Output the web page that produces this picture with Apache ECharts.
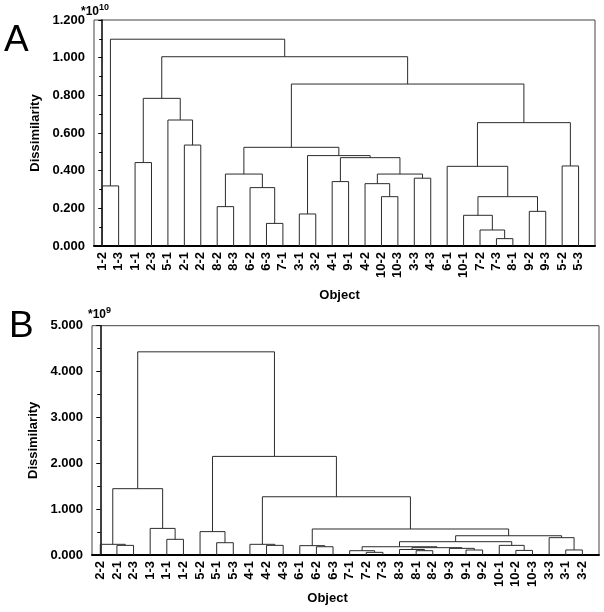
<!DOCTYPE html>
<html><head><meta charset="utf-8">
<script src="https://cdn.jsdelivr.net/npm/echarts@6/dist/echarts.min.js"></script>
<style>html,body{margin:0;padding:0;background:#fff}#c{width:604px;height:612px}</style>
</head><body><div id="c"></div>
<script>
// Panel A leaf order (left to right)
const leavesA = ['1-2','1-3','1-1','2-3','5-1','2-1','2-2','8-2','8-3','6-2','6-3','7-1','3-1','3-2','4-1','9-1','4-2','10-2','10-3','3-3','4-3','6-1','10-1','7-2','7-3','8-1','9-2','9-3','5-2','5-3'];
// Panel A merges: [child1, child2, dissimilarity (x1e10)]; a number refers to an earlier merge
const mergesA = [
  ['7-3','8-1',0.039],   // 0
  ['7-2',0,0.085],       // 1
  ['3-1','3-2',0.17],    // 2
  ['6-3','7-1',0.12],    // 3
  ['10-1',1,0.163],      // 4
  ['9-2','9-3',0.184],   // 5
  ['8-2','8-3',0.209],   // 6
  ['10-2','10-3',0.262], // 7
  [4,5,0.262],           // 8
  ['6-2',3,0.31],        // 9
  ['1-2','1-3',0.319],   // 10
  ['4-2',7,0.331],       // 11
  ['4-1','9-1',0.342],   // 12
  ['3-3','4-3',0.36],    // 13
  [11,13,0.382],         // 14
  [6,9,0.382],           // 15
  ['6-1',8,0.423],       // 16
  ['5-2','5-3',0.425],   // 17
  ['1-1','2-3',0.443],   // 18
  [12,14,0.469],         // 19
  [2,19,0.48],           // 20
  [15,20,0.524],         // 21
  ['2-1','2-2',0.536],   // 22
  [16,17,0.655],         // 23
  ['5-1',22,0.669],      // 24
  [18,24,0.784],         // 25
  [21,23,0.86],          // 26
  [25,26,1.005],         // 27
  [10,27,1.098]          // 28
];
// Panel B leaf order
const leavesB = ['2-2','2-1','2-3','1-3','1-1','1-2','5-2','5-1','5-3','4-1','4-2','4-3','6-1','6-2','6-3','7-1','7-2','7-3','8-3','8-1','8-2','9-3','9-1','9-2','10-1','10-2','10-3','3-3','3-1','3-2'];
// Panel B merges (x1e9)
const mergesB = [
  ['7-2','7-3',0.058],   // 0
  ['7-1',0,0.094],       // 1
  ['8-1','8-2',0.094],   // 2
  ['8-3',2,0.12],        // 3
  ['9-1','9-2',0.109],   // 4
  ['9-3',4,0.145],       // 5
  [3,5,0.16],            // 6
  [1,6,0.18],            // 7
  ['10-2','10-3',0.1],   // 8
  ['10-1',8,0.21],       // 9
  [7,9,0.29],            // 10
  ['3-1','3-2',0.11],    // 11
  ['3-3',11,0.378],      // 12
  [10,12,0.42],          // 13
  ['6-2','6-3',0.18],    // 14
  ['6-1',14,0.204],      // 15
  [15,13,0.567],         // 16
  ['4-2','4-3',0.21],    // 17
  ['4-1',17,0.233],      // 18
  [18,16,1.27],          // 19
  ['5-1','5-3',0.268],   // 20
  ['5-2',20,0.51],       // 21
  [21,19,2.15],          // 22
  ['2-1','2-3',0.21],    // 23
  ['2-2',23,0.233],      // 24
  ['1-1','1-2',0.342],   // 25
  ['1-3',25,0.58],       // 26
  [24,26,1.446],         // 27
  [27,22,4.43]           // 28
];
const yMaxA = 1.2, yStepA = 0.2;
const yMaxB = 5, yStepB = 1;

function buildSegments(leaves, merges) {
  const pos = {};
  leaves.forEach((l, i) => pos[l] = i);
  const nodes = [];
  const get = c => typeof c === 'string' ? {x: pos[c], h: 0} : nodes[c];
  return merges.map(([a, b, h]) => {
    const A = get(a), B = get(b);
    nodes.push({x: (A.x + B.x) / 2, h: h});
    return [A.x, A.h, B.x, B.h, h];
  });
}

const FONT = 'Liberation Sans, Arial, sans-serif';
const lineColor = '#2b2b2b';

function renderItem(params, api) {
  const p1 = api.coord([api.value(0), api.value(1)]);
  const p2 = api.coord([api.value(0), api.value(4)]);
  const p3 = api.coord([api.value(2), api.value(4)]);
  const p4 = api.coord([api.value(2), api.value(3)]);
  return {type: 'polyline', shape: {points: [p1, p2, p3, p4]},
    style: {stroke: lineColor, lineWidth: 1, fill: null}};
}

function xAxisFor(gi, leaves, nameGap, shift) {
  return {
    gridIndex: gi, type: 'value', min: -0.5, max: 30,
    axisLine: {show: true, onZero: false, lineStyle: {color: '#000', width: 2}},
    axisTick: {show: false}, splitLine: {show: false},
    axisLabel: {customValues: leaves.map((_, i) => i), formatter: v => leaves[Math.round(v)],
      rotate: 90, fontSize: 13, fontWeight: 'bold', color: '#000', margin: 6, fontFamily: FONT},
    name: 'Object', nameLocation: 'middle', nameGap: nameGap,
    nameTextStyle: {fontSize: 13, fontWeight: 'bold', color: '#000', fontFamily: FONT, padding: [0, 0, 0, shift]}
  };
}
function yAxisFor(gi, max, step, nameGap) {
  return {
    gridIndex: gi, type: 'value', min: 0, max: max, interval: step,
    axisLine: {show: true, lineStyle: {color: '#000', width: 1.5}},
    axisTick: {show: true, length: 4, lineStyle: {color: '#000'}},
    minorTick: {show: true, splitNumber: 2, length: 3, lineStyle: {color: '#000'}},
    splitLine: {show: false},
    axisLabel: {formatter: v => v.toFixed(3), fontSize: 13, fontWeight: 'bold', color: '#000', margin: 9, fontFamily: FONT},
    name: 'Dissimilarity', nameLocation: 'middle', nameGap: nameGap, nameRotate: 90,
    nameTextStyle: {fontSize: 13, fontWeight: 'bold', color: '#000', fontFamily: FONT}
  };
}

const chart = echarts.init(document.getElementById('c'), null, {renderer: 'canvas'});
chart.setOption({
  animation: false,
  backgroundColor: '#fff',
  title: [
    {text: 'A', left: 4, top: 22, padding: 0, textStyle: {fontSize: 37, fontWeight: 'normal', color: '#000', fontFamily: FONT}},
    {text: 'B', left: 9, top: 308, padding: 0, textStyle: {fontSize: 37, fontWeight: 'normal', color: '#000', fontFamily: FONT}},
    {text: '{a|*10}{b|10}', left: 81, top: 3, padding: 0,
      textStyle: {rich: {a: {fontSize: 12, fontWeight: 'bold', color: '#000', fontFamily: FONT, verticalAlign: 'bottom', lineHeight: 15},
                          b: {fontSize: 9, color: '#000', fontFamily: FONT, verticalAlign: 'top', lineHeight: 15, padding: [0, 0, 6, 0]}}}},
    {text: '{a|*10}{b|9}', left: 88, top: 306, padding: 0,
      textStyle: {rich: {a: {fontSize: 12, fontWeight: 'bold', color: '#000', fontFamily: FONT, verticalAlign: 'bottom', lineHeight: 15},
                          b: {fontSize: 9, color: '#000', fontFamily: FONT, verticalAlign: 'top', lineHeight: 15, padding: [0, 0, 6, 0]}}}}
  ],
  grid: [
    {left: 94, top: 20, width: 501, height: 226, show: true, borderColor: '#444', borderWidth: 1, containLabel: false},
    {left: 92, top: 325.7, width: 507, height: 229.3, show: true, borderColor: '#444', borderWidth: 1, containLabel: false}
  ],
  xAxis: [xAxisFor(0, leavesA, 43, -10), xAxisFor(1, leavesB, 37, -36)],
  yAxis: [yAxisFor(0, yMaxA, yStepA, 47), yAxisFor(1, yMaxB, yStepB, 44)],
  series: [
    {type: 'custom', xAxisIndex: 0, yAxisIndex: 0, renderItem: renderItem,
      encode: {x: [0, 2], y: [1, 3, 4]}, data: buildSegments(leavesA, mergesA), silent: true},
    {type: 'custom', xAxisIndex: 1, yAxisIndex: 1, renderItem: renderItem,
      encode: {x: [0, 2], y: [1, 3, 4]}, data: buildSegments(leavesB, mergesB), silent: true}
  ]
});
</script></body></html>
